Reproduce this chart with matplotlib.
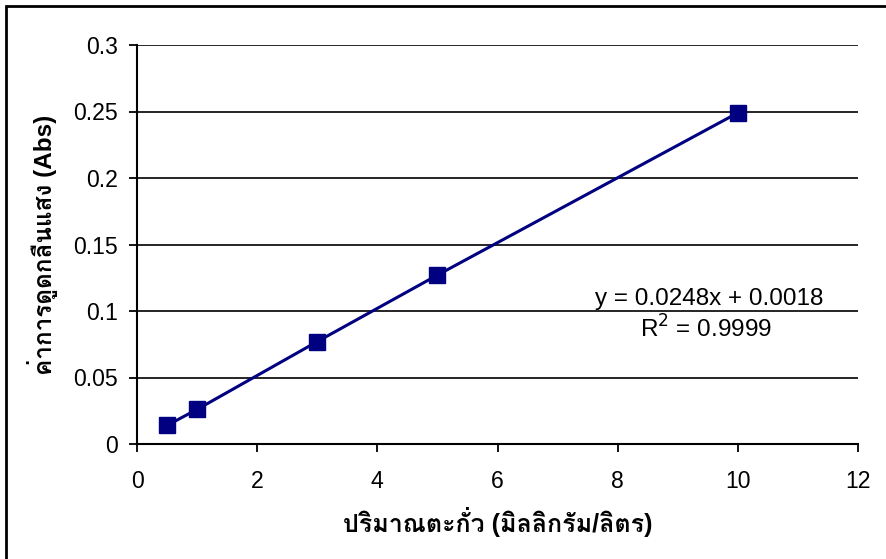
import matplotlib
matplotlib.use("Agg")

import numpy as np
import matplotlib.pyplot as plt
from matplotlib import font_manager
from matplotlib.ft2font import FT2Font
from matplotlib.patches import Rectangle

# data
conc = [0.5, 1, 3, 5, 10]
absorb = [0.014, 0.026, 0.077, 0.127, 0.249]
x_ticks = [0, 2, 4, 6, 8, 10, 12]
y_ticks = [0, 0.05, 0.1, 0.15, 0.2, 0.25, 0.3]
y_ticklabels = ["0", "0.05", "0.1", "0.15", "0.2", "0.25", "0.3"]
eq_text = "y = 0.0248x + 0.0018"
r2_text = "R$^2$ = 0.9999"
xlabel = "ปริมาณตะกั่ว (มิลลิกรัม/ลิตร)"
ylabel = "ค่าการดูดกลืนแสง (Abs)"


# look for an installed font with Thai glyphs
def find_thai_font():
    for f in font_manager.fontManager.ttflist:
        try:
            cmap = FT2Font(f.fname).get_charmap()
        except Exception:
            continue
        if 0x0E1B in cmap and 0x0E34 in cmap:
            return f.name
    return None


thai = find_thai_font()
families = ["Liberation Sans"]
if thai:
    families.append(thai)
families.append("DejaVu Sans")
plt.rcParams["font.family"] = families

fig = plt.figure(figsize=(8.86, 5.59), dpi=100)
ax = fig.add_axes([137 / 886, 1 - 444 / 559, (858 - 137) / 886, (444 - 45) / 559])

navy = "#000080"
ax.plot(conc, absorb, color=navy, lw=2.2, marker="s", ms=12,
        mfc=navy, mec=navy, zorder=3, clip_on=False)

ax.set_xlim(0, 12)
ax.set_ylim(0, 0.3)
ax.set_xticks(x_ticks)
ax.set_yticks(y_ticks)
ax.set_yticklabels(y_ticklabels)
ax.tick_params(axis="both", labelsize=16.6, length=5.5, width=1.3,
               color="black", direction="out")
ax.tick_params(axis="x", pad=13)
ax.tick_params(axis="y", pad=8.5)
ax.yaxis.grid(True, color="black", lw=1.2)
ax.set_axisbelow(True)
for s in ["top", "right"]:
    ax.spines[s].set_visible(False)
for s in ["left", "bottom"]:
    ax.spines[s].set_linewidth(1.5)

ax.set_xlabel(xlabel, fontsize=18, fontweight="bold", va="center")
ax.xaxis.set_label_coords(0.5, (444 - 522) / 399)
ax.set_ylabel(ylabel, fontsize=17.5, fontweight="bold", va="center")
ax.yaxis.set_label_coords((43 - 137) / 721, 0.5)

ax.text(9.52, 0.1048, eq_text, fontsize=17.5, ha="center", va="baseline")
ax.text(9.47, 0.0799, r2_text, fontsize=17.5, ha="center", va="baseline")

# chart area border (only top/left fall inside the picture)
fig.add_artist(Rectangle((6 / 886, -0.1), 1.2, 1 - 6 / 559 + 0.1,
                         transform=fig.transFigure, fill=False,
                         ec="black", lw=2))

fig.savefig("out.png", dpi=100)
